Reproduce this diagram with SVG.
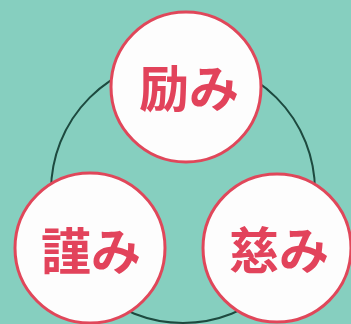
<svg xmlns="http://www.w3.org/2000/svg" width="351" height="324" viewBox="0 0 351 324">
<style>
.node circle{fill:#fdfdfd;stroke:#e0475a;stroke-width:3}
.node text{fill:#e2435b;font-family:"Noto Sans CJK JP","Noto Sans CJK SC",sans-serif;font-weight:700;font-size:50px;text-anchor:middle;dominant-baseline:central}
</style>
<rect width="351" height="324" fill="#86cfbf"/>
<g id="connectors">
<circle cx="183" cy="191" r="132" fill="none" stroke="#1d4a3f" stroke-width="2"/>
</g>
<g id="node-hagemi" class="node">
<circle cx="186" cy="87" r="75"/>
<text x="189" y="85">励み</text>
</g>
<g id="node-tsutsushimi" class="node">
<circle cx="90" cy="248" r="75"/>
<text x="91" y="248">謹み</text>
</g>
<g id="node-itsukushimi" class="node">
<circle cx="277" cy="248" r="74"/>
<text x="279" y="247">慈み</text>
</g>
</svg>
